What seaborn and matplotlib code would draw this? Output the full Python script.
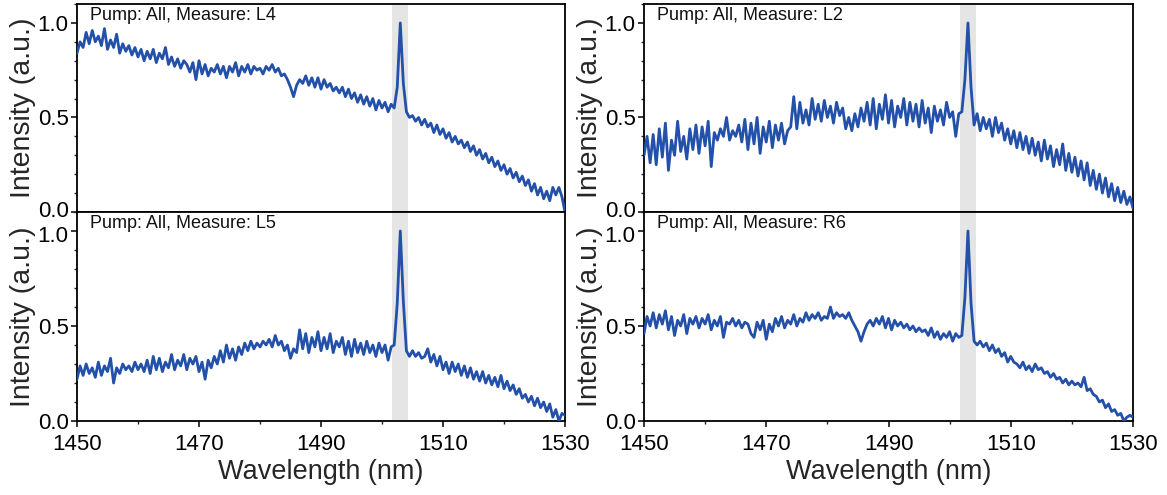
import numpy as np
import pandas as pd
import matplotlib
matplotlib.use("Agg")
import matplotlib.pyplot as plt
from matplotlib.ticker import MultipleLocator
from matplotlib.transforms import ScaledTranslation
import seaborn as sns

# ---------------- data (0.5 nm grid) ----------------
wavelength = [1450 + 0.5 * i for i in range(161)]

int_L4 = [
    0.84, 0.90, 0.87, 0.95, 0.89, 0.96, 0.90, 0.93, 0.88, 0.97,
    0.86, 0.91, 0.87, 0.94, 0.84, 0.89, 0.85, 0.88, 0.83, 0.87,
    0.82, 0.86, 0.80, 0.85, 0.81, 0.86, 0.79, 0.84, 0.81, 0.87,
    0.78, 0.82, 0.77, 0.81, 0.76, 0.80, 0.78, 0.74, 0.79, 0.70,
    0.80, 0.73, 0.78, 0.72, 0.76, 0.74, 0.78, 0.73, 0.77, 0.71,
    0.77, 0.74, 0.79, 0.72, 0.77, 0.74, 0.78, 0.73, 0.77, 0.75,
    0.76, 0.73, 0.77, 0.75, 0.78, 0.74, 0.76, 0.72, 0.73, 0.70,
    0.66, 0.61, 0.67, 0.70, 0.68, 0.72, 0.67, 0.71, 0.66, 0.71,
    0.65, 0.70, 0.66, 0.68, 0.64, 0.66, 0.63, 0.66, 0.61, 0.65,
    0.60, 0.63, 0.58, 0.62, 0.57, 0.61, 0.56, 0.60, 0.54, 0.59,
    0.55, 0.58, 0.53, 0.57, 0.55, 0.66, 1.00, 0.68, 0.53, 0.50,
    0.51, 0.48, 0.50, 0.46, 0.49, 0.45, 0.47, 0.42, 0.46, 0.41,
    0.44, 0.39, 0.42, 0.37, 0.40, 0.36, 0.38, 0.34, 0.37, 0.32,
    0.35, 0.30, 0.33, 0.28, 0.31, 0.26, 0.29, 0.24, 0.27, 0.22,
    0.25, 0.20, 0.23, 0.18, 0.21, 0.16, 0.19, 0.14, 0.17, 0.11,
    0.15, 0.09, 0.13, 0.07, 0.11, 0.06, 0.13, 0.09, 0.13, 0.08,
    0.00,
]

int_L2 = [
    0.30, 0.40, 0.26, 0.41, 0.25, 0.44, 0.29, 0.47, 0.22, 0.38,
    0.30, 0.48, 0.32, 0.40, 0.28, 0.44, 0.33, 0.46, 0.31, 0.45,
    0.35, 0.48, 0.24, 0.42, 0.38, 0.44, 0.40, 0.50, 0.38, 0.43,
    0.40, 0.46, 0.37, 0.49, 0.33, 0.47, 0.36, 0.50, 0.31, 0.45,
    0.37, 0.48, 0.34, 0.46, 0.38, 0.47, 0.36, 0.43, 0.45, 0.61,
    0.44, 0.58, 0.47, 0.54, 0.46, 0.60, 0.49, 0.57, 0.48, 0.59,
    0.50, 0.56, 0.47, 0.58, 0.51, 0.55, 0.44, 0.50, 0.43, 0.52,
    0.45, 0.55, 0.48, 0.58, 0.46, 0.60, 0.44, 0.57, 0.49, 0.62,
    0.47, 0.59, 0.45, 0.56, 0.50, 0.60, 0.46, 0.58, 0.48, 0.57,
    0.45, 0.59, 0.47, 0.55, 0.42, 0.56, 0.48, 0.54, 0.46, 0.58,
    0.50, 0.53, 0.40, 0.52, 0.53, 0.70, 1.00, 0.66, 0.46, 0.52,
    0.43, 0.50, 0.44, 0.49, 0.40, 0.50, 0.42, 0.47, 0.38, 0.44,
    0.36, 0.43, 0.34, 0.42, 0.33, 0.40, 0.31, 0.39, 0.30, 0.37,
    0.27, 0.38, 0.28, 0.35, 0.24, 0.33, 0.25, 0.36, 0.22, 0.31,
    0.21, 0.29, 0.19, 0.27, 0.17, 0.26, 0.14, 0.22, 0.12, 0.20,
    0.10, 0.18, 0.08, 0.15, 0.06, 0.13, 0.05, 0.11, 0.04, 0.08,
    0.02,
]

int_L5 = [
    0.22, 0.29, 0.24, 0.30, 0.25, 0.28, 0.23, 0.31, 0.24, 0.29,
    0.26, 0.33, 0.20, 0.28, 0.25, 0.30, 0.27, 0.29, 0.26, 0.31,
    0.27, 0.30, 0.26, 0.32, 0.25, 0.34, 0.27, 0.33, 0.26, 0.31,
    0.28, 0.35, 0.27, 0.32, 0.29, 0.35, 0.27, 0.33, 0.30, 0.34,
    0.26, 0.31, 0.22, 0.32, 0.28, 0.34, 0.30, 0.37, 0.31, 0.40,
    0.33, 0.38, 0.32, 0.39, 0.35, 0.41, 0.37, 0.42, 0.38, 0.41,
    0.39, 0.42, 0.40, 0.43, 0.39, 0.45, 0.40, 0.42, 0.37, 0.40,
    0.33, 0.38, 0.36, 0.48, 0.38, 0.46, 0.36, 0.44, 0.39, 0.47,
    0.37, 0.44, 0.38, 0.46, 0.36, 0.42, 0.39, 0.44, 0.35, 0.42,
    0.34, 0.43, 0.36, 0.41, 0.35, 0.42, 0.36, 0.40, 0.34, 0.41,
    0.36, 0.40, 0.32, 0.39, 0.40, 0.62, 1.00, 0.63, 0.37, 0.34,
    0.37, 0.34, 0.36, 0.33, 0.34, 0.38, 0.31, 0.35, 0.29, 0.34,
    0.27, 0.31, 0.25, 0.31, 0.26, 0.30, 0.24, 0.29, 0.23, 0.28,
    0.22, 0.26, 0.21, 0.26, 0.20, 0.24, 0.19, 0.23, 0.18, 0.24,
    0.17, 0.21, 0.16, 0.19, 0.14, 0.17, 0.12, 0.14, 0.10, 0.13,
    0.08, 0.12, 0.07, 0.10, 0.05, 0.09, 0.02, 0.06, 0.00, 0.04,
    0.03,
]

int_R6 = [
    0.46, 0.55, 0.50, 0.57, 0.49, 0.56, 0.51, 0.58, 0.48, 0.55,
    0.45, 0.53, 0.50, 0.56, 0.46, 0.54, 0.51, 0.55, 0.49, 0.54,
    0.51, 0.56, 0.48, 0.53, 0.50, 0.55, 0.44, 0.52, 0.51, 0.54,
    0.50, 0.53, 0.49, 0.52, 0.51, 0.46, 0.44, 0.52, 0.48, 0.53,
    0.43, 0.51, 0.47, 0.54, 0.50, 0.55, 0.49, 0.53, 0.51, 0.56,
    0.50, 0.54, 0.52, 0.57, 0.53, 0.56, 0.54, 0.57, 0.53, 0.55,
    0.54, 0.60, 0.54, 0.57, 0.55, 0.56, 0.54, 0.57, 0.53, 0.50,
    0.47, 0.42, 0.47, 0.51, 0.53, 0.50, 0.54, 0.51, 0.55, 0.49,
    0.54, 0.48, 0.53, 0.50, 0.52, 0.49, 0.51, 0.48, 0.50, 0.47,
    0.49, 0.47, 0.48, 0.45, 0.49, 0.44, 0.47, 0.43, 0.46, 0.44,
    0.47, 0.42, 0.46, 0.44, 0.45, 0.65, 1.00, 0.62, 0.42, 0.40,
    0.42, 0.39, 0.41, 0.37, 0.40, 0.36, 0.38, 0.34, 0.36, 0.31,
    0.34, 0.31, 0.30, 0.28, 0.31, 0.27, 0.29, 0.26, 0.30, 0.27,
    0.28, 0.25, 0.26, 0.23, 0.25, 0.22, 0.23, 0.20, 0.22, 0.19,
    0.21, 0.19, 0.20, 0.18, 0.23, 0.16, 0.17, 0.14, 0.13, 0.10,
    0.11, 0.07, 0.09, 0.05, 0.06, 0.03, 0.04, 0.00, 0.02, 0.03,
    0.02,
]

panel_titles = ["Pump: All, Measure: L4", "Pump: All, Measure: L2",
                "Pump: All, Measure: L5", "Pump: All, Measure: R6"]
panel_series = [int_L4, int_L2, int_L5, int_R6]
x_ticks = [1450, 1470, 1490, 1510, 1530]
y_ticks = [0.0, 0.5, 1.0]
y_ticklabels = ["0.0", "0.5", "1.0"]
band = (1501.7, 1504.3)

# ---------------- style ----------------
sns.set_style("ticks")
plt.rcParams["font.family"] = ["Liberation Sans", "DejaVu Sans"]
plt.rcParams["axes.linewidth"] = 1.3

W, H = 1167, 495
fig = plt.figure(figsize=(W / 100, H / 100), dpi=100)

line_color = "#2350A8"

# axes rectangles in pixels: (left, top, right, bottom)
rects = [(77, 4, 565, 212), (644, 4, 1133, 212),
         (77, 212, 565, 421), (644, 212, 1133, 421)]

for k, (rect, title, vals) in enumerate(zip(rects, panel_titles, panel_series)):
    l, t, r, b = rect
    ax = fig.add_axes([l / W, 1 - b / H, (r - l) / W, (b - t) / H])
    df = pd.DataFrame({"Wavelength": wavelength, "Intensity": vals})
    ax.axvspan(band[0], band[1], color="#e5e5e5", lw=0, zorder=0)
    sns.lineplot(data=df, x="Wavelength", y="Intensity", ax=ax,
                 color=line_color, linewidth=2.0, zorder=3)
    ax.set_xlim(1450, 1530)
    ax.set_ylim(0, 1.1)
    ax.set_yticks(y_ticks)
    ax.set_yticklabels(y_ticklabels)
    ax.yaxis.set_minor_locator(MultipleLocator(0.1))
    ax.set_xticks(x_ticks)
    ax.xaxis.set_minor_locator(MultipleLocator(10))
    for s in ax.spines.values():
        s.set_visible(True)
        s.set_color("black")
        s.set_linewidth(1.3)
    ax.tick_params(axis="both", which="major", direction="out", length=4,
                   width=1.1, labelsize=16, colors="black", pad=2)
    ax.tick_params(axis="both", which="minor", direction="out", length=2.5,
                   width=1.0)
    ax.set_ylabel("Intensity (a.u.)", fontsize=20.5, labelpad=1)
    if k < 2:
        ax.tick_params(axis="x", which="both", bottom=False, labelbottom=False)
        ax.set_xlabel("")
        # lift the "0.0" label a touch so it clears the "1.0" below
        lbl = ax.get_yticklabels()[0]
        lbl.set_transform(lbl.get_transform() + ScaledTranslation(0, 3 / 100, fig.dpi_scale_trans))
    else:
        ax.set_xlabel("Wavelength (nm)", fontsize=19.5, labelpad=3)
        ax.tick_params(axis="x", which="major", pad=5)
        lbl = ax.get_yticklabels()[2]
        lbl.set_transform(lbl.get_transform() + ScaledTranslation(0, -3 / 100, fig.dpi_scale_trans))
    ax.text(0.026, 0.985, title, transform=ax.transAxes, ha="left", va="top",
            fontsize=13, color="#111111", zorder=5)

fig.savefig("out.png", dpi=100)
